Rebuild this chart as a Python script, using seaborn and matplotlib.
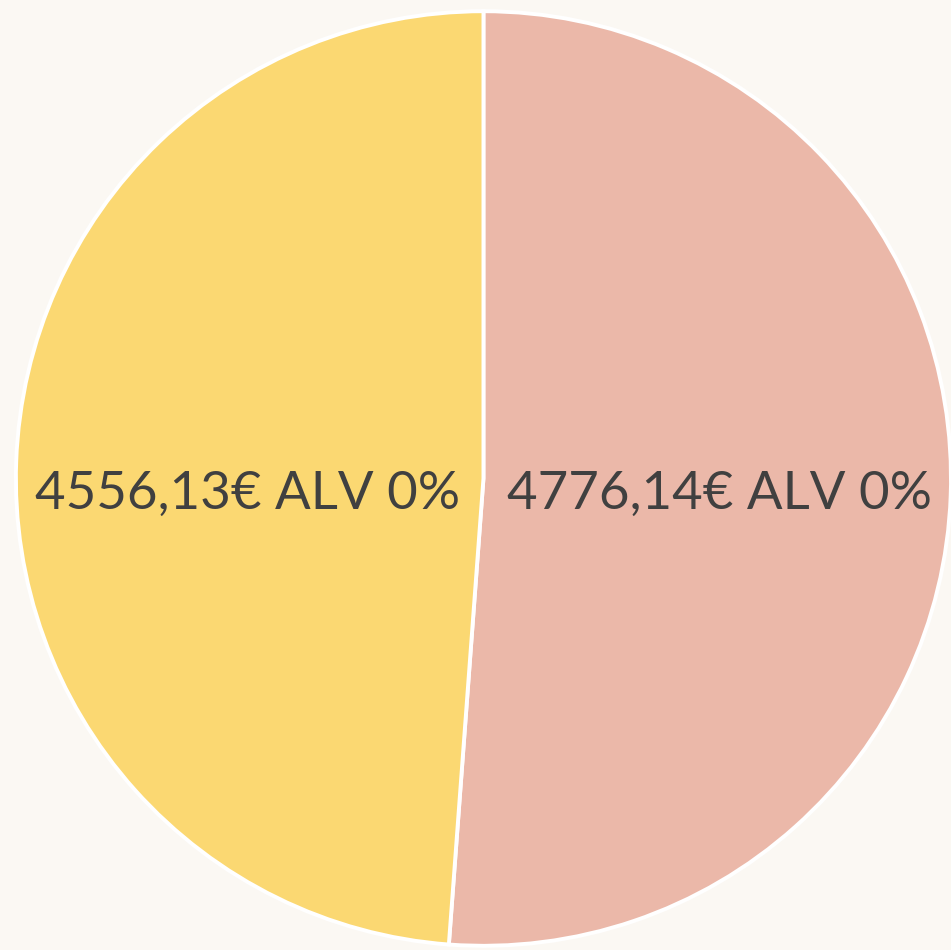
import matplotlib
matplotlib.use("Agg")
import matplotlib.pyplot as plt
import seaborn as sns

# slice data (euros, VAT 0%)
amounts = [4776.14, 4556.13]
labels = ["4776,14€ ALV 0%", "4556,13€ ALV 0%"]
colors = ["#EBB8A9", "#FBD872"]

sns.set_theme(style="white")
plt.rcParams['font.family'] = ['Lato', 'DejaVu Sans']

bg = "#FBF8F3"
fig = plt.figure(figsize=(9.51, 9.50), dpi=100, facecolor=bg)
ax = fig.add_axes([0, 0, 1, 1])
ax.set_facecolor(bg)

wedges, texts = ax.pie(
    amounts,
    labels=labels,
    colors=sns.color_palette(colors),
    startangle=90,
    counterclock=False,
    labeldistance=0.505,
    wedgeprops=dict(edgecolor="white", linewidth=2.8),
    textprops=dict(fontsize=38, color="#404040"),
)
# labels sit on one line, a bit below the centre, like the original
for t in texts:
    t.set_ha("center")
    t.set_va("center_baseline")
    t.set_y(-0.024)

# place the pie like the reference (circle slightly cut on the right)
ax.set_xlim(-1.034, 1.0)
ax.set_ylim(-1.009, 1.024)
ax.set_aspect("auto")
ax.axis("off")

fig.savefig("out.png", dpi=100, facecolor=bg)
